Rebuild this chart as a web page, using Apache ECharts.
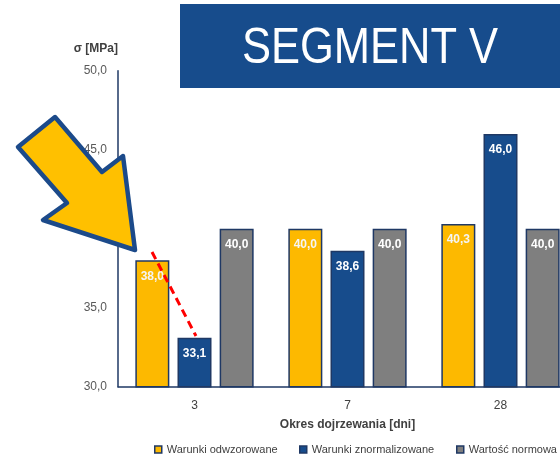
<!DOCTYPE html>
<html><head><meta charset="utf-8">
<script src="https://cdn.jsdelivr.net/npm/echarts@6/dist/echarts.min.js"></script>
<style>html,body{margin:0;padding:0;background:#fff;overflow:hidden;width:560px;height:461px}#c{width:590px;height:461px}</style>
</head><body><div id="c"></div>
<script>
const categories = ['3', '7', '28'];
const seriesNames = ['Warunki odwzorowane', 'Warunki znormalizowane', 'Wartość normowa'];
const odwzorowane = [38.0, 40.0, 40.3];
const znormalizowane = [33.1, 38.6, 46.0];
const normowa = [40.0, 40.0, 40.0];
const yTicks = [30, 35, 40, 45, 50];

const colors = ['#FDB900', '#174C8C', '#7F7F7F'];
const border = '#1F3864';
const fontFam = '"Liberation Sans", Arial, sans-serif';
const fmt = v => v.toFixed(1).replace('.', ',');

function barSeries(name, data, color, labelColor) {
  return {
    name, type: 'bar', data, barWidth: 34, barGap: '24%',
    itemStyle: { color, borderColor: border, borderWidth: 1.5 },
    label: { show: true, position: 'insideTop', distance: 10, color: labelColor,
      fontWeight: 'bold', fontSize: 12, fontFamily: fontFam,
      formatter: p => fmt(p.value) }
  };
}
function legendAt(name, left) {
  return {
    bottom: 6, left, padding: 0, itemWidth: 7, itemHeight: 7, icon: 'rect',
    textStyle: { color: '#404040', fontSize: 11, fontFamily: fontFam },
    itemStyle: { borderColor: border, borderWidth: 1.5 },
    data: [name]
  };
}

const chart = echarts.init(document.getElementById('c'), null, { renderer: 'canvas' });
chart.setOption({
  animation: false,
  color: colors,
  grid: { left: 118, top: 70.7, bottom: 74.3, width: 459, containLabel: false },
  xAxis: {
    type: 'category', data: categories,
    axisLine: { lineStyle: { color: border, width: 1.5 } },
    axisTick: { show: false },
    axisLabel: { color: '#404040', fontSize: 12, margin: 13, fontFamily: fontFam },
    name: 'Okres dojrzewania [dni]', nameLocation: 'middle', nameGap: 32,
    nameTextStyle: { color: '#404040', fontWeight: 'bold', fontSize: 12, fontFamily: fontFam }
  },
  yAxis: {
    type: 'value', min: yTicks[0], max: yTicks[yTicks.length - 1], interval: 5,
    axisLine: { show: true, lineStyle: { color: border, width: 1.5 } },
    axisTick: { show: false },
    splitLine: { show: false },
    axisLabel: { color: '#595959', fontSize: 12, margin: 11, fontFamily: fontFam, formatter: v => fmt(v) },
    name: 'σ [MPa]', nameLocation: 'end', nameGap: 16,
    nameTextStyle: { color: '#404040', fontWeight: 'bold', fontSize: 12, fontFamily: fontFam, align: 'right', verticalAlign: 'bottom' }
  },
  legend: [
    legendAt(seriesNames[0], 154),
    legendAt(seriesNames[1], 299),
    legendAt(seriesNames[2], 456)
  ],
  series: [
    barSeries(seriesNames[0], odwzorowane, colors[0], '#F5F5F5'),
    barSeries(seriesNames[1], znormalizowane, colors[1], '#FFFFFF'),
    barSeries(seriesNames[2], normowa, colors[2], '#FFFFFF')
  ],
  graphic: [
    { type: 'rect', z: 100, shape: { x: 180, y: 4, width: 420, height: 84 }, style: { fill: '#174C8C' } },
    { type: 'text', z: 101, x: 370, y: 49, scaleX: 0.87, style: { text: 'SEGMENT V', fill: '#FFFFFF', fontSize: 50, fontFamily: fontFam, align: 'center', verticalAlign: 'middle' } },
    { type: 'polygon', z: 100, shape: { points: [[135, 250], [123, 156], [102, 172], [55, 117], [18, 147], [67, 203], [43, 220]] },
      style: { fill: '#FFC000', stroke: '#1C4A8A', lineWidth: 4.5, lineJoin: 'round' } },
    { type: 'line', z: 100, shape: { x1: 152, y1: 252, x2: 196, y2: 336 }, style: { stroke: '#FF0000', lineWidth: 3, lineDash: [8, 5] } }
  ]
});
</script></body></html>
